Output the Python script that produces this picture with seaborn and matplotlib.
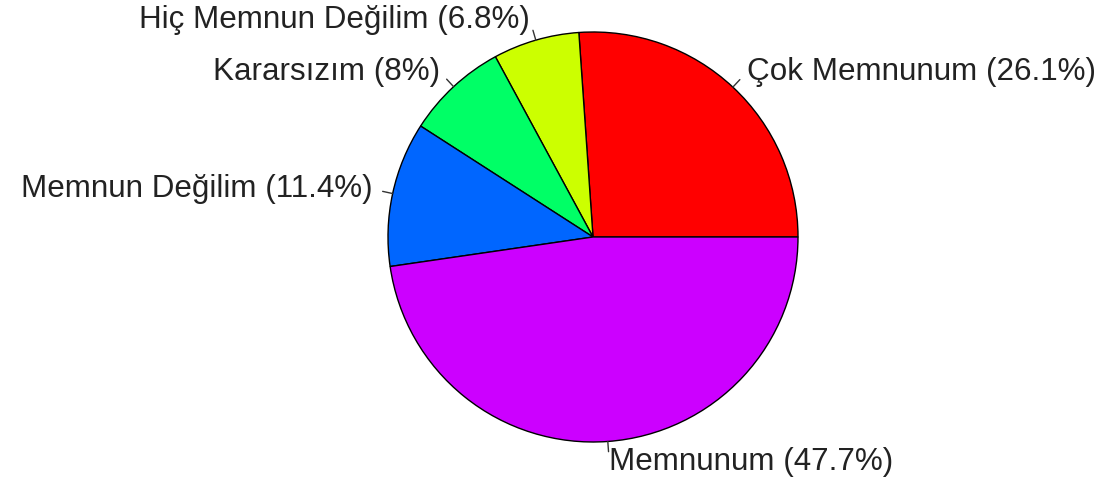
#! /usr/bin/env python3

# libraries
import matplotlib.pyplot as plt
import numpy as np
import seaborn as sns

sns.set_style("white")
plt.rcParams["font.family"] = ["Liberation Sans", "DejaVu Sans"]

# data (counter-clockwise from 3 o'clock)
categories = [
    "Çok Memnunum",
    "Hiç Memnun Değilim",
    "Kararsızım",
    "Memnun Değilim",
    "Memnunum",
]
percents = [26.1, 6.8, 8, 11.4, 47.7]
colors = ["#FF0000", "#CCFF00", "#00FF66", "#0066FF", "#CC00FF"]

labels = [f"{c} ({p:g}%)" for c, p in zip(categories, percents)]

W, H = 1102, 488
cx, cy, R = 593, 237, 205  # pie centre / radius in pixels

fig = plt.figure(figsize=(W / 100, H / 100), dpi=100)
ax = fig.add_axes([0, 0, 1, 1])
wedges, texts = ax.pie(
    percents,
    labels=labels,
    colors=colors,
    startangle=0,
    counterclock=True,
    labeldistance=1.1,
    wedgeprops=dict(edgecolor="black", linewidth=1),
    textprops=dict(fontsize=22.6, color="#222222"),
)
# small tick marks like base R pie
for w in wedges:
    mid = np.deg2rad((w.theta1 + w.theta2) / 2)
    ax.plot(
        [np.cos(mid), 1.05 * np.cos(mid)],
        [np.sin(mid), 1.05 * np.sin(mid)],
        color="#333333",
        lw=1,
    )
ax.set_xlim(-cx / R, (W - cx) / R)
ax.set_ylim(-(H - cy) / R, cy / R)
ax.set_aspect("auto")
ax.axis("off")

plt.savefig("out.png", dpi=100)
